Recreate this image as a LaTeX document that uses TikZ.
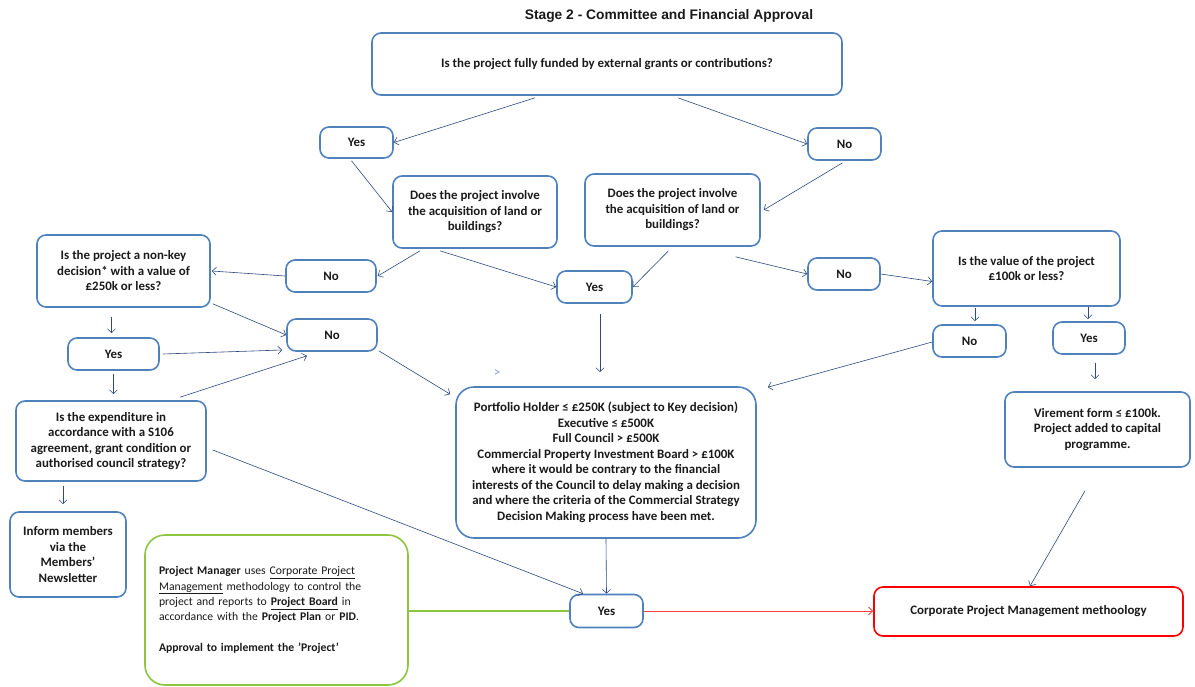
\documentclass[tikz,border=0pt]{standalone}
\usepackage{fontspec}
\setmainfont{Carlito}
\newfontfamily\titlefont{Liberation Sans}
\usetikzlibrary{arrows.meta}
\definecolor{boxblue}{HTML}{4F81BD}
\definecolor{linenavy}{HTML}{2E4A7E}
\definecolor{txt}{HTML}{1A1A1A}
\definecolor{grn}{HTML}{8CC63F}
\definecolor{redb}{HTML}{FF0000}
\definecolor{pinkl}{HTML}{FF4040}
\definecolor{strayc}{HTML}{7F9FD3}
\begin{document}
\begin{tikzpicture}[x=1pt,y=-1pt,
  box/.style={draw=boxblue, line width=1.6pt, rounded corners=9pt, fill=white, align=center, inner sep=0pt, text=txt, font=\fontsize{12.9}{15.5}\selectfont\bfseries},
  conn/.style={draw=linenavy, line width=0.6pt, -{Straight Barb[length=4pt,width=8pt]}},
]
\fill[white] (0,0) rectangle (1195,686);
\useasboundingbox (0,0) rectangle (1195,686);

\node[text=txt, font=\titlefont\fontsize{13.8}{16}\selectfont\bfseries] (title) at (669,16) {Stage 2 - Committee and Financial Approval};

\node[box, minimum width=470pt, minimum height=62pt] (q1) at (607,64) {Is the project fully funded by external grants or contributions?};
\node[box, minimum width=73pt, minimum height=31pt] (yes1) at (356.5,142.5) {Yes};
\node[box, minimum width=73pt, minimum height=32pt] (no1) at (844.5,144) {No};
\node[box, minimum width=164pt, minimum height=72pt] (dpiL) at (475,212) {Does the project involve\\the acquisition of land or\\buildings?};
\node[box, minimum width=175pt, minimum height=72pt] (dpiR) at (672.5,210) {Does the project involve\\the acquisition of land or\\buildings?};
\node[box, minimum width=173pt, minimum height=72pt] (nonkey) at (123.5,271) {Is the project a non-key\\decision* with a value of\\£250k or less?};
\node[box, minimum width=90pt, minimum height=32pt] (no2) at (331,276) {No};
\node[box, minimum width=75pt, minimum height=32pt] (yes2) at (594.5,287) {Yes};
\node[box, minimum width=72pt, minimum height=32pt] (no3) at (844,274) {No};
\node[box, minimum width=187pt, minimum height=75pt] (value) at (1026.5,268.5) {Is the value of the project\\£100k or less?};
\node[box, minimum width=73pt, minimum height=32pt] (no4) at (969.5,341) {No};
\node[box, minimum width=72pt, minimum height=32pt] (yes3) at (1089,338) {Yes};
\node[box, minimum width=185pt, minimum height=75pt] (vire) at (1097.5,429.5) {Virement form ≤ £100k.\\Project added to capital\\programme.};
\node[box, minimum width=91pt, minimum height=32pt] (yes4) at (113.5,354) {Yes};
\node[box, minimum width=90pt, minimum height=32pt] (no5) at (332,335) {No};
\node[box, minimum width=190pt, minimum height=80pt] (expd) at (111,441) {Is the expenditure in\\accordance with a S106\\agreement, grant condition or\\authorised council strategy?};
\node[box, minimum width=116pt, minimum height=85pt] (inform) at (68,554.5) {Inform members\\via the\\Members'\\Newsletter};
\node[box, minimum width=300pt, minimum height=151pt, rounded corners=18pt] (big) at (606,462.5) {Portfolio Holder ≤ £250K (subject to Key decision)\\Executive ≤ £500K\\Full Council > £500K\\Commercial Property Investment Board > £100K\\where it would be contrary to the financial\\interests of the Council to delay making a decision\\and where the criteria of the Commercial Strategy\\Decision Making process have been met.};
\node[box, minimum width=73pt, minimum height=33pt] (yes5) at (606.5,611) {Yes};
\node[draw=grn, line width=1.6pt, rounded corners=20pt, fill=white, align=left, text=txt, font=\fontsize{11.7}{15.4}\selectfont, text width=235pt, inner xsep=14pt, inner ysep=0pt, minimum height=150pt] (green) at (276.5,610) {\textbf{Project Manager} uses \underline{Corporate Project}\\\underline{Management} methodology to control the\\project and reports to \textbf{\underline{Project Board}} in\\accordance with the \textbf{Project Plan} or \textbf{PID}.\\[15.4pt]\textbf{Approval to implement the 'Project'}};
\node[box, draw=redb, minimum width=309pt, minimum height=49pt] (red) at (1028.5,611.5) {Corporate Project Management methoology};
\node[text=strayc, font=\fontsize{13}{15}\selectfont, inner sep=0pt] (stray) at (497,373) {>};

\draw[conn] ([xshift=-72pt,yshift=-2pt]q1.south) -- (yes1.east);
\draw[conn] ([xshift=71pt,yshift=-2pt]q1.south) -- (no1.west);
\draw[conn] ([xshift=-5pt,yshift=-2pt]yes1.south) -- (dpiL.west);
\draw[conn] ([xshift=-2pt,yshift=-2pt]no1.south) -- ([xshift=3pt]dpiR.east);
\draw[conn] ([xshift=-55pt,yshift=-2pt]dpiL.south) -- ([xshift=1pt]no2.east);
\draw[conn] (no2.west) -- ([xshift=1pt]nonkey.east);
\draw[conn] ([xshift=-35pt,yshift=-2pt]dpiL.south) -- (yes2.west);
\draw[conn] ([xshift=-4pt,yshift=-4pt]dpiR.south) -- (yes2.east);
\draw[conn] ([xshift=63pt,yshift=-10pt]dpiR.south) -- (no3.west);
\draw[conn] (no3.east) -- ([yshift=-13pt]value.west);
\draw[conn] ([xshift=2pt,yshift=4pt]nonkey.south east) -- (no5.west);
\draw[conn] ([xshift=-12pt,yshift=-9pt]nonkey.south) -- ([xshift=-2pt,yshift=4pt]yes4.north);
\draw[conn] ([xshift=3pt]yes4.east) -- ([xshift=-4pt,yshift=-15pt]no5.west);
\draw[conn] ([yshift=-3pt]yes4.south) -- ([xshift=2.5pt,yshift=6pt]expd.north);
\draw[conn] ([xshift=69pt,yshift=3pt]expd.north) -- ([xshift=-25pt,yshift=-4pt]no5.south);
\draw[conn] ([xshift=1pt,yshift=1pt]no5.south east) -- ([xshift=-5pt,yshift=-8pt]big.north west);
\draw[conn] ([xshift=5.5pt,yshift=-10pt]yes2.south) -- ([xshift=-6pt,yshift=14pt]big.north);
\draw[conn] ([yshift=-1pt]no4.west) -- ([xshift=11pt,yshift=-1pt]big.north east);
\draw[conn] ([xshift=-51.5pt,yshift=-1pt]value.south) -- ([xshift=5.5pt,yshift=3pt]no4.north);
\draw[conn] ([xshift=61.5pt]value.south) -- ([xshift=-1pt,yshift=2pt]yes3.north);
\draw[conn] ([xshift=6pt,yshift=-8pt]yes3.south) -- ([xshift=-2.5pt,yshift=12pt]vire.north);
\draw[conn] ([xshift=-48pt,yshift=-4pt]expd.south) -- ([xshift=-5pt,yshift=7pt]inform.north);
\draw[conn] (big.south) -- (yes5.north);
\draw[conn] ([xshift=6pt,yshift=-9pt]expd.east) -- ([xshift=-23.5pt]yes5.north);
\draw[draw=grn, line width=2.2pt] (yes5.west -| green.east) -- (yes5.west);
\draw[draw=pinkl, line width=1pt, -{Straight Barb[length=4pt,width=8pt]}] (yes5.east) -- (yes5.east -| red.west);
\draw[conn] ([xshift=-12.5pt,yshift=-23pt]vire.south) -- ([xshift=1.5pt]red.north);
\end{tikzpicture}
\end{document}
